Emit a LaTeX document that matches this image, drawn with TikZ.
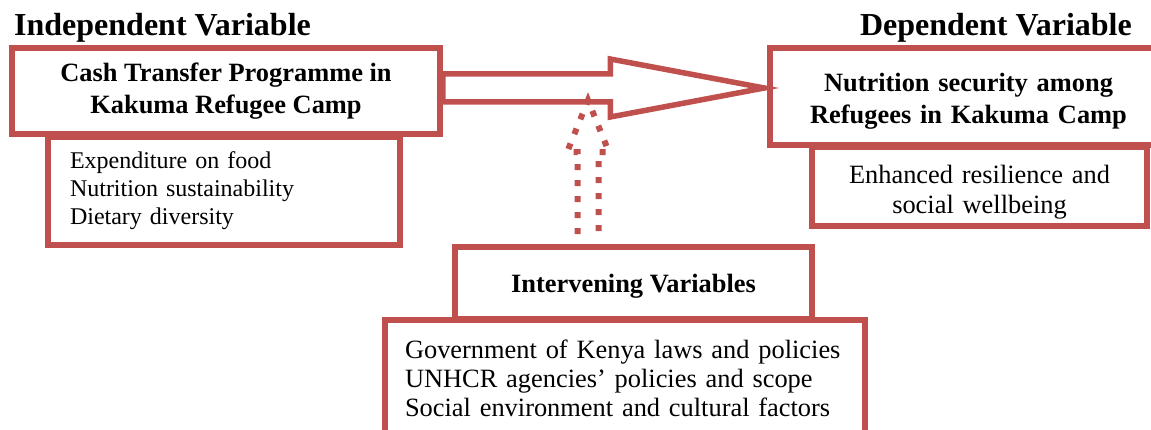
\documentclass[tikz,border=0pt]{standalone}
\usepackage{fontspec}
\setmainfont{Liberation Serif}
\usetikzlibrary{calc}
\definecolor{boxred}{RGB}{192,80,77}

\begin{document}
\begin{tikzpicture}[x=1pt,y=-1pt,
		box/.style={draw=boxred, line width=5.5pt, fill=white, inner sep=0pt},
		title/.style={font=\bfseries\fontsize{26.4}{32}\selectfont, align=center},
		heading/.style={font=\bfseries\fontsize{32}{38}\selectfont, inner sep=0pt},
		bigarrow/.style={draw=boxred, line width=5.5pt, line join=miter},
		dotarrow/.style={draw=boxred, line width=6pt, dash pattern=on 6pt off 10pt}]
		\useasboundingbox (0,0) rectangle (1151,430);
		\node[heading, anchor=base west] (indep) at (14,36) {Independent Variable};
		\node[heading, anchor=base east] (dep) at (1132,36) {Dependent Variable};
		\node[box, title, minimum width=428, minimum height=86] (cash) at (226,91) {Cash Transfer Programme in\\Kakuma Refugee Camp};
		\node[box, minimum width=352, minimum height=108, text width=308, align=left, font=\fontsize{24}{28}\selectfont] (cashlist) at (224,191) {Expenditure on food\\Nutrition sustainability\\Dietary diversity};
		\node[box, title, minimum width=397, minimum height=97, text width=380, text depth=28pt] (nutr) at (968.5,96.5) {Nutrition security among\\Refugees in Kakuma Camp};
		\node[box, minimum width=335, minimum height=79, text width=320, text depth=24pt, align=center, font=\fontsize{26.4}{30}\selectfont] (nutrlist) at (979.5,186.5) {Enhanced resilience and\\social wellbeing};
		\node[box, title, minimum width=357, minimum height=72, text depth=0pt] (interv) at (633.5,283) {Intervening Variables};
		\node[box, minimum width=480, minimum height=116, text width=440, align=left, font=\fontsize{26.4}{29}\selectfont] (intervlist) at (625,378) {Government of Kenya laws and policies\\UNHCR agencies’ policies and scope\\Social environment and cultural factors};
		\coordinate (tail) at ($(cash.east)+(0,-3)$);
		\coordinate (tip) at ($(nutr.west)+(-3,-8.5)$);
		\draw[bigarrow] ($(tail)+(0,-14)$) -- ($(tip)+(-154,-14)$) -- ($(tip)+(-154,-29)$) -- (tip)
			-- ($(tip)+(-154,29)$) -- ($(tip)+(-154,14)$) -- ($(tail)+(0,14)$) -- cycle;
		\coordinate (dbase) at ($(interv.north)+(-45.5,-10)$);
		\draw[dotarrow] ($(dbase)+(-10.5,0)$) -- ($(dbase)+(-10.5,-82)$) -- ($(dbase)+(-21,-82)$) -- ($(dbase)+(0,-134)$)
			-- ($(dbase)+(21,-82)$) -- ($(dbase)+(10.5,-82)$) -- ($(dbase)+(10.5,0)$);
	\end{tikzpicture}
\end{document}
